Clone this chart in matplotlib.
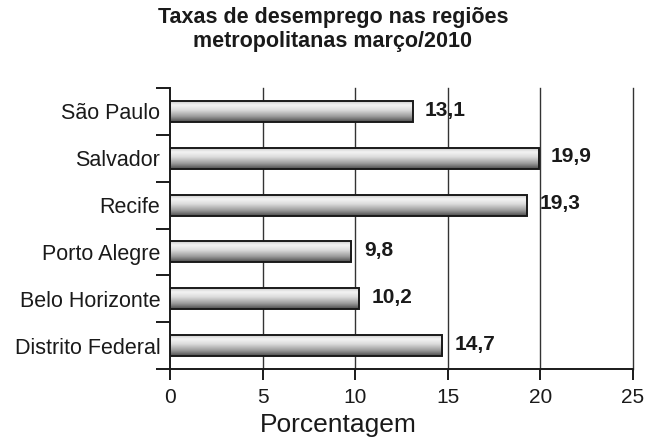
import numpy as np
import matplotlib
matplotlib.use("Agg")
import matplotlib.pyplot as plt
from matplotlib.patches import Rectangle
from matplotlib.colors import LinearSegmentedColormap

# Unemployment rates by metropolitan region (March 2010)
regioes = ["São Paulo", "Salvador", "Recife", "Porto Alegre",
           "Belo Horizonte", "Distrito Federal"]
taxas = [13.1, 19.9, 19.3, 9.8, 10.2, 14.7]
rotulos = ["13,1", "19,9", "19,3", "9,8", "10,2", "14,7"]
xticks = [0, 5, 10, 15, 20, 25]

plt.rcParams["font.family"] = ["Liberation Sans", "DejaVu Sans"]

fig = plt.figure(figsize=(6.62, 4.45), dpi=100)
ax = fig.add_axes([0.2568, 0.1708, 0.6994, 0.6314])

pos = np.arange(len(regioes))
altura = 0.45

# metallic shading: light near the top, darkening towards the bottom
cmap = LinearSegmentedColormap.from_list(
    "metal",
    [(0.0, "#bdbdbd"), (0.22, "#f4f4f4"), (0.45, "#dcdcdc"),
     (0.75, "#9a9a9a"), (1.0, "#4a4a4a")])
grad = np.linspace(0, 1, 256).reshape(-1, 1)

bars = ax.barh(pos, taxas, height=altura, color="none",
               edgecolor="#1a1a1a", linewidth=1.4, zorder=3)
for b in bars:
    x0, y0 = b.get_x(), b.get_y()
    w, h = b.get_width(), b.get_height()
    im = ax.imshow(grad, cmap=cmap, aspect="auto",
                   extent=(x0, x0 + w, y0 + h, y0), zorder=2,
                   interpolation="bicubic")
    im.set_clip_path(Rectangle((x0, y0), w, h, transform=ax.transData))

for p, v, r in zip(pos, taxas, rotulos):
    ax.annotate(r, (v, p), xytext=(9, 1), textcoords="offset points",
                ha="left", va="center", fontsize=15, fontweight="bold",
                color="#1a1a1a", zorder=4)

ax.set_xlim(0, 25)
ax.set_ylim(len(regioes) - 0.5, -0.5)

# vertical grid lines
for t in xticks[1:]:
    ax.axvline(t, color="#333333", linewidth=1.0, zorder=1, clip_on=False)

ax.set_xticks(xticks)
ax.set_xticklabels([str(t) for t in xticks], fontsize=15, color="#1a1a1a")
ax.tick_params(axis="x", direction="out", length=8, width=1.4, pad=6,
               color="#1a1a1a")

# category boundaries as ticks, names at the centres
ax.set_yticks(np.arange(-0.5, len(regioes)))
ax.set_yticklabels([])
ax.tick_params(axis="y", which="major", direction="out", length=10,
               width=1.4, color="#1a1a1a")
ax.set_yticks(pos, minor=True)
ax.set_yticklabels(regioes, minor=True, fontsize=15.5, color="#1a1a1a")
ax.tick_params(axis="y", which="minor", length=0, pad=7)

for s in ("top", "right"):
    ax.spines[s].set_visible(False)
for s in ("left", "bottom"):
    ax.spines[s].set_linewidth(1.4)
    ax.spines[s].set_color("#1a1a1a")
ax.set_facecolor("white")

fig.text(0.503, 0.985, "Taxas de desemprego nas regiões\nmetropolitanas março/2010",
         ha="center", va="top", fontsize=15.5, fontweight="bold",
         color="#1a1a1a", linespacing=1.2)
fig.text(0.511, 0.045, "Porcentagem", ha="center", va="center",
         fontsize=19, color="#1a1a1a")

fig.savefig("out.png", dpi=100, facecolor="white")
